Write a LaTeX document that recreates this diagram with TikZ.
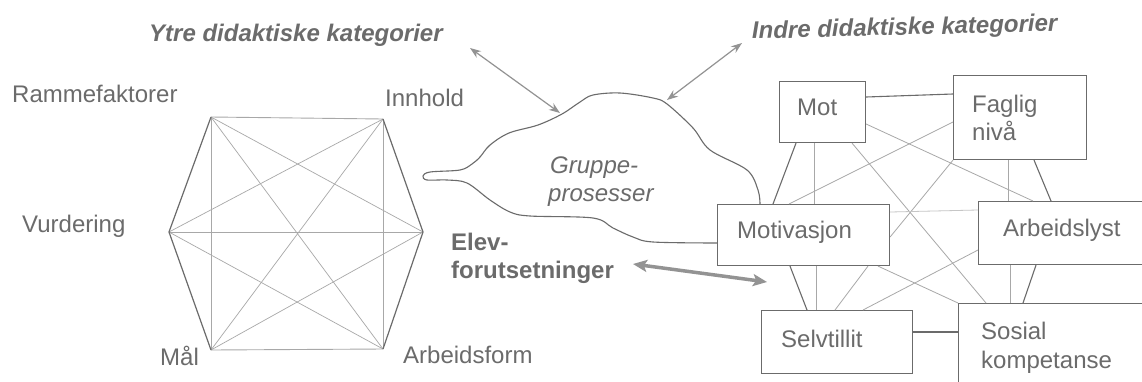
\documentclass[tikz,border=0pt]{standalone}
\usepackage{fontspec}
\setmainfont{Liberation Sans}
\usetikzlibrary{arrows.meta,calc}
\definecolor{txt}{gray}{0.42}
\definecolor{dk}{gray}{0.42}
\definecolor{lt}{gray}{0.66}
\begin{document}
\begin{tikzpicture}[x=1pt,y=-1pt,
  lbl/.style={anchor=base west,inner sep=0,text=txt,font=\fontsize{24}{28}\selectfont},
  blbl/.style={lbl,font=\fontsize{24}{28}\selectfont\bfseries\itshape},
  bbl/.style={lbl,font=\fontsize{24}{28}\selectfont\bfseries},
  ilbl/.style={lbl,font=\fontsize{24}{28}\selectfont\itshape},
  box/.style={draw=dk,line width=1.1pt,anchor=north west,inner sep=0,minimum width=#1},
  hexedge/.style={draw=dk,line width=1.2pt},
  hexin/.style={draw=lt,line width=0.7pt},
  darkc/.style={draw=dk,line width=1.1pt},
  thinc/.style={draw=lt,line width=0.8pt},
  thinarrow/.style={draw=gray!85,line width=1.2pt,{Stealth[length=11pt,width=8pt]}-{Stealth[length=11pt,width=8pt]}},
  thickarrow/.style={draw=gray!85,line width=3.5pt,{Stealth[length=14pt,width=12pt,inset=3pt]}-{Stealth[length=14pt,width=12pt,inset=3pt]}}
]
\clip (0,0) rectangle (1142,381);
\fill[white] (0,0) rectangle (1142,381);

% hexagon vertices
\coordinate (TL) at (211,117);
\coordinate (TR) at (383,119);
\coordinate (R) at (423,232);
\coordinate (BR) at (383,349);
\coordinate (BL) at (211,350);
\coordinate (L) at (169,232);
% inner lines
\foreach \a/\b in {TL/BL,TR/BR,L/R,TL/BR,TR/BL,TL/R,TR/L,BL/R,BR/L}{\draw[hexin] (\a) -- (\b);}
\draw[hexin,line width=0.9pt] (TL) -- (TR) (BL) -- (BR);
\draw[hexedge] (TR) -- (R) -- (BR);
\draw[hexedge] (TL) -- (L) -- (BL);

% hexagon labels
\node[lbl] (ramme) at (12,102) {Rammefaktorer};
\node[lbl] (innhold) at (385,106) {Innhold};
\node[lbl] (vurd) at (22,232) {Vurdering};
\node[lbl] (maal) at (160,365) {Mål};
\node[lbl] (arbform) at (403,363) {Arbeidsform};

% titles
\node[blbl] (ytre) at (149,41) {Ytre didaktiske kategorier};
\node[blbl,rotate=1.5] (indre) at (752,39) {Indre didaktiske kategorier};

% boxes
\node[box=86pt,minimum height=61pt] (mot) at (779,81) {};
\node[box=133pt,minimum height=84pt] (fag) at (953,75) {};
\node[box=172pt,minimum height=61pt] (motiv) at (717,204) {};
\node[box=200pt,minimum height=63pt] (arb) at (978,201) {};
\node[box=151pt,minimum height=63pt] (selv) at (761,310) {};
\node[box=200pt,minimum height=120pt] (sos) at (958,303) {};

% box texts
\node[lbl] (tmot) at (797,115) {Mot};
\node[lbl] (tfag1) at (972,112) {Faglig};
\node[lbl] (tfag2) at (972,140) {nivå};
\node[lbl] (tmotiv) at (737,238) {Motivasjon};
\node[lbl] (tarb) at (1003,236) {Arbeidslyst};
\node[lbl] (tselv) at (781,347) {Selvtillit};
\node[lbl] (tsos1) at (981,339) {Sosial};
\node[lbl] (tsos2) at (981,368) {kompetanse};

% connectors
\draw[darkc] ($(mot.north east)+(0,16)$) -- ($(fag.north west)+(0,19)$);
\draw[darkc] ($(mot.south west)+(17,0)$) -- ($(motiv.north west)+(56,0)$);
\draw[thinc] ($(mot.south west)+(35,0)$) -- ($(motiv.north west)+(97,0)$);
\draw[thinc] ($(mot.north east)+(0,43)$) -- ($(arb.north west)+(55,0)$);
\draw[thinc] ($(mot.south west)+(73,0)$) -- ($(sos.north west)+(28,0)$);
\draw[thinc] ($(fag.north west)+(0,47)$) -- ($(motiv.north west)+(72,0)$);
\draw[thinc] (fag.south west) -- ($(motiv.north east)+(0,33)$);
\draw[thinc] ($(fag.south west)+(55,0)$) -- ($(arb.north west)+(30,0)$);
\draw[darkc] ($(fag.south west)+(81,0)$) -- ($(arb.north west)+(73,0)$);
\draw[thinc,draw=gray!45] ($(motiv.north east)+(0,8)$) -- ($(arb.north west)+(0,9)$);
\draw[thinc] ($(arb.north west)+(0,49)$) -- ($(selv.north west)+(102,0)$);
\draw[thinc] ($(arb.south west)+(32,0)$) -- ($(sos.north west)+(52,0)$);
\draw[darkc] ($(arb.south west)+(58,0)$) -- ($(sos.north west)+(65,0)$);
\draw[thinc] ($(motiv.south west)+(161,0)$) -- (sos.north west);
\draw[darkc] ($(motiv.south west)+(73,0)$) -- ($(selv.north west)+(46,0)$);
\draw[thinc] ($(motiv.south west)+(99,0)$) -- ($(selv.north west)+(55,0)$);
\draw[thinc] ($(motiv.south west)+(151,0)$) -- ($(selv.north west)+(74,0)$);
\draw[darkc] ($(selv.north east)+(0,22)$) -- ($(sos.north west)+(0,29)$);

% cloud
\coordinate (cs) at ($(motiv.north west)+(0,39)$);
\coordinate (ce) at ($(motiv.north west)+(43,0)$);
\draw[dk,line width=1.1pt] plot[smooth,tension=0.55] coordinates {(cs) (653,242) (633,237) (613,228) (593,218) (530,216) (510,212) (490,200) (467,183) (447,180) (427,180) (423,176) (430,172) (460,170) (472,164) (480,157) (490,145) (509,133) (538,125) (562,114) (580,102) (593,95) (620,93) (653,98) (667,104) (693,128) (710,150) (747,170) (758,190) (ce)};
\node[ilbl] (grp1) at (550,173) {Gruppe-};
\node[ilbl] (grp2) at (548,201) {prosesser};

% elev
\node[bbl] (elev1) at (451,250) {Elev-};
\node[bbl] (elev2) at (451,278) {forutsetninger};

% arrows
\coordinate (ya) at (470,48);
\coordinate (yb) at (560,113);
\coordinate (ia) at (742,43);
\coordinate (ib) at (667,100);
\coordinate (ta) at (633,264);
\coordinate (tb) at (767,282);
\draw[thinarrow] (ya) -- (yb);
\draw[thinarrow] (ia) -- (ib);
\draw[thickarrow] (ta) -- (tb);
\end{tikzpicture}
\end{document}
